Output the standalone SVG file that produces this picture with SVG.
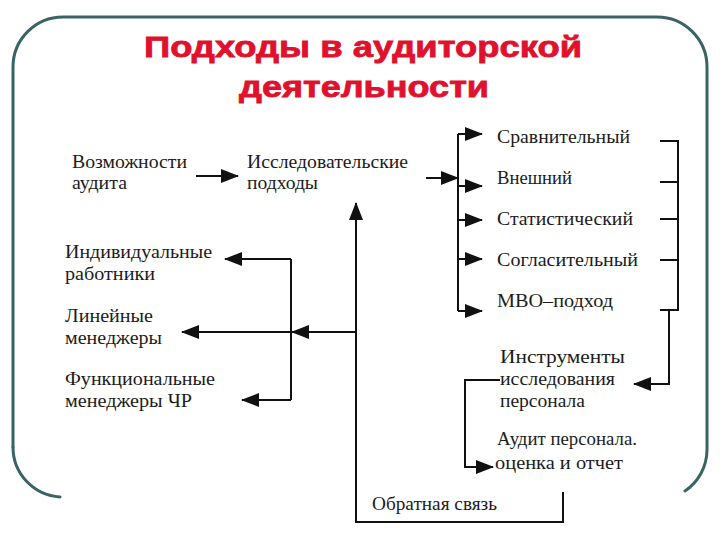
<svg xmlns="http://www.w3.org/2000/svg" width="720" height="540" viewBox="0 0 720 540">
<style>
  .frame { fill: none; stroke: #3a6464; stroke-width: 3; stroke-linecap: round; }
  .title { font-family: "Liberation Sans", Arial, sans-serif; font-weight: bold; font-size: 30px; fill: #e0112d; stroke: #e0112d; stroke-width: 0.8; text-anchor: middle; }
  .t { font-family: "Liberation Serif", "Times New Roman", serif; font-size: 18px; fill: #1c1c1c; }
  .c { fill: none; stroke: #111; stroke-width: 2; }
  .a { marker-end: url(#ah); }
</style>
<defs>
  <marker id="ah" markerUnits="userSpaceOnUse" markerWidth="18" markerHeight="14" refX="17" refY="7" orient="auto">
    <path d="M0,0 L18,7 L0,14 Z" fill="#111"/>
  </marker>
</defs>
<rect width="720" height="540" fill="#ffffff"/>
<path class="frame" d="M13,447 V67 A50,50 0 0 1 63,17 H657 A50,50 0 0 1 707,67 V450 A50,50 0 0 1 685,491"/>
<path class="frame" d="M13,447 A50,50 0 0 0 60,497"/>
<g id="title">
  <text class="title" x="363" y="57" textLength="438" lengthAdjust="spacingAndGlyphs">Подходы в аудиторской</text>
  <text class="title" x="364" y="97" textLength="250" lengthAdjust="spacingAndGlyphs">деятельности</text>
</g>
<g id="connectors">
  <path class="c a" d="M196,176 H238"/>
  <path class="c a" d="M426,178 H458"/>
  <path class="c" d="M458,134 V311"/>
  <path class="c a" d="M458,134 H482"/>
  <path class="c a" d="M458,186 H482"/>
  <path class="c a" d="M458,220 H482"/>
  <path class="c a" d="M458,259 H482"/>
  <path class="c a" d="M458,311 H482"/>
  <path class="c" d="M660,141 H678 V310 H660"/>
  <path class="c" d="M660,182 H678 M660,219 H678 M660,260 H678"/>
  <path class="c a" d="M669,310 V384 H634"/>
  <path class="c a" d="M500,380 H465 V467 H493"/>
  <path class="c a" d="M563,492 V522 H356 V203"/>
  <path class="c a" d="M356,332 H292"/>
  <path class="c" d="M291,259 V400"/>
  <path class="c a" d="M291,259 H225"/>
  <path class="c a" d="M291,332 H182"/>
  <path class="c a" d="M291,400 H242"/>
</g>
<g id="n-vozmozhnosti">
  <text class="t" x="72" y="168" textLength="115" lengthAdjust="spacingAndGlyphs">Возможности</text>
  <text class="t" x="72" y="189" textLength="55" lengthAdjust="spacingAndGlyphs">аудита</text>
</g>
<g id="n-issled">
  <text class="t" x="247" y="168" textLength="161" lengthAdjust="spacingAndGlyphs">Исследовательские</text>
  <text class="t" x="247" y="189" textLength="71" lengthAdjust="spacingAndGlyphs">подходы</text>
</g>
<g id="n-sravn"><text class="t" x="497" y="143" textLength="133" lengthAdjust="spacingAndGlyphs">Сравнительный</text></g>
<g id="n-vneshniy"><text class="t" x="497" y="184" textLength="75" lengthAdjust="spacingAndGlyphs">Внешний</text></g>
<g id="n-stat"><text class="t" x="497" y="225" textLength="136" lengthAdjust="spacingAndGlyphs">Статистический</text></g>
<g id="n-soglas"><text class="t" x="497" y="266" textLength="141" lengthAdjust="spacingAndGlyphs">Согласительный</text></g>
<g id="n-mbo"><text class="t" x="497" y="307" textLength="116" lengthAdjust="spacingAndGlyphs">МВО–подход</text></g>
<g id="n-instr">
  <text class="t" x="500" y="363" textLength="125" lengthAdjust="spacingAndGlyphs">Инструменты</text>
  <text class="t" x="500" y="385" textLength="115" lengthAdjust="spacingAndGlyphs">исследования</text>
  <text class="t" x="500" y="407" textLength="85" lengthAdjust="spacingAndGlyphs">персонала</text>
</g>
<g id="n-audit">
  <text class="t" x="497" y="445" textLength="140" lengthAdjust="spacingAndGlyphs">Аудит персонала.</text>
  <text class="t" x="495" y="469" textLength="128" lengthAdjust="spacingAndGlyphs">оценка и отчет</text>
</g>
<g id="n-obrat"><text class="t" x="372" y="510" textLength="125" lengthAdjust="spacingAndGlyphs">Обратная связь</text></g>
<g id="n-indiv">
  <text class="t" x="65" y="258" textLength="147" lengthAdjust="spacingAndGlyphs">Индивидуальные</text>
  <text class="t" x="65" y="280" textLength="90" lengthAdjust="spacingAndGlyphs">работники</text>
</g>
<g id="n-lin">
  <text class="t" x="65" y="322" textLength="88" lengthAdjust="spacingAndGlyphs">Линейные</text>
  <text class="t" x="65" y="344" textLength="97" lengthAdjust="spacingAndGlyphs">менеджеры</text>
</g>
<g id="n-func">
  <text class="t" x="65" y="385" textLength="150" lengthAdjust="spacingAndGlyphs">Функциональные</text>
  <text class="t" x="65" y="407" textLength="127" lengthAdjust="spacingAndGlyphs">менеджеры ЧР</text>
</g>
</svg>
